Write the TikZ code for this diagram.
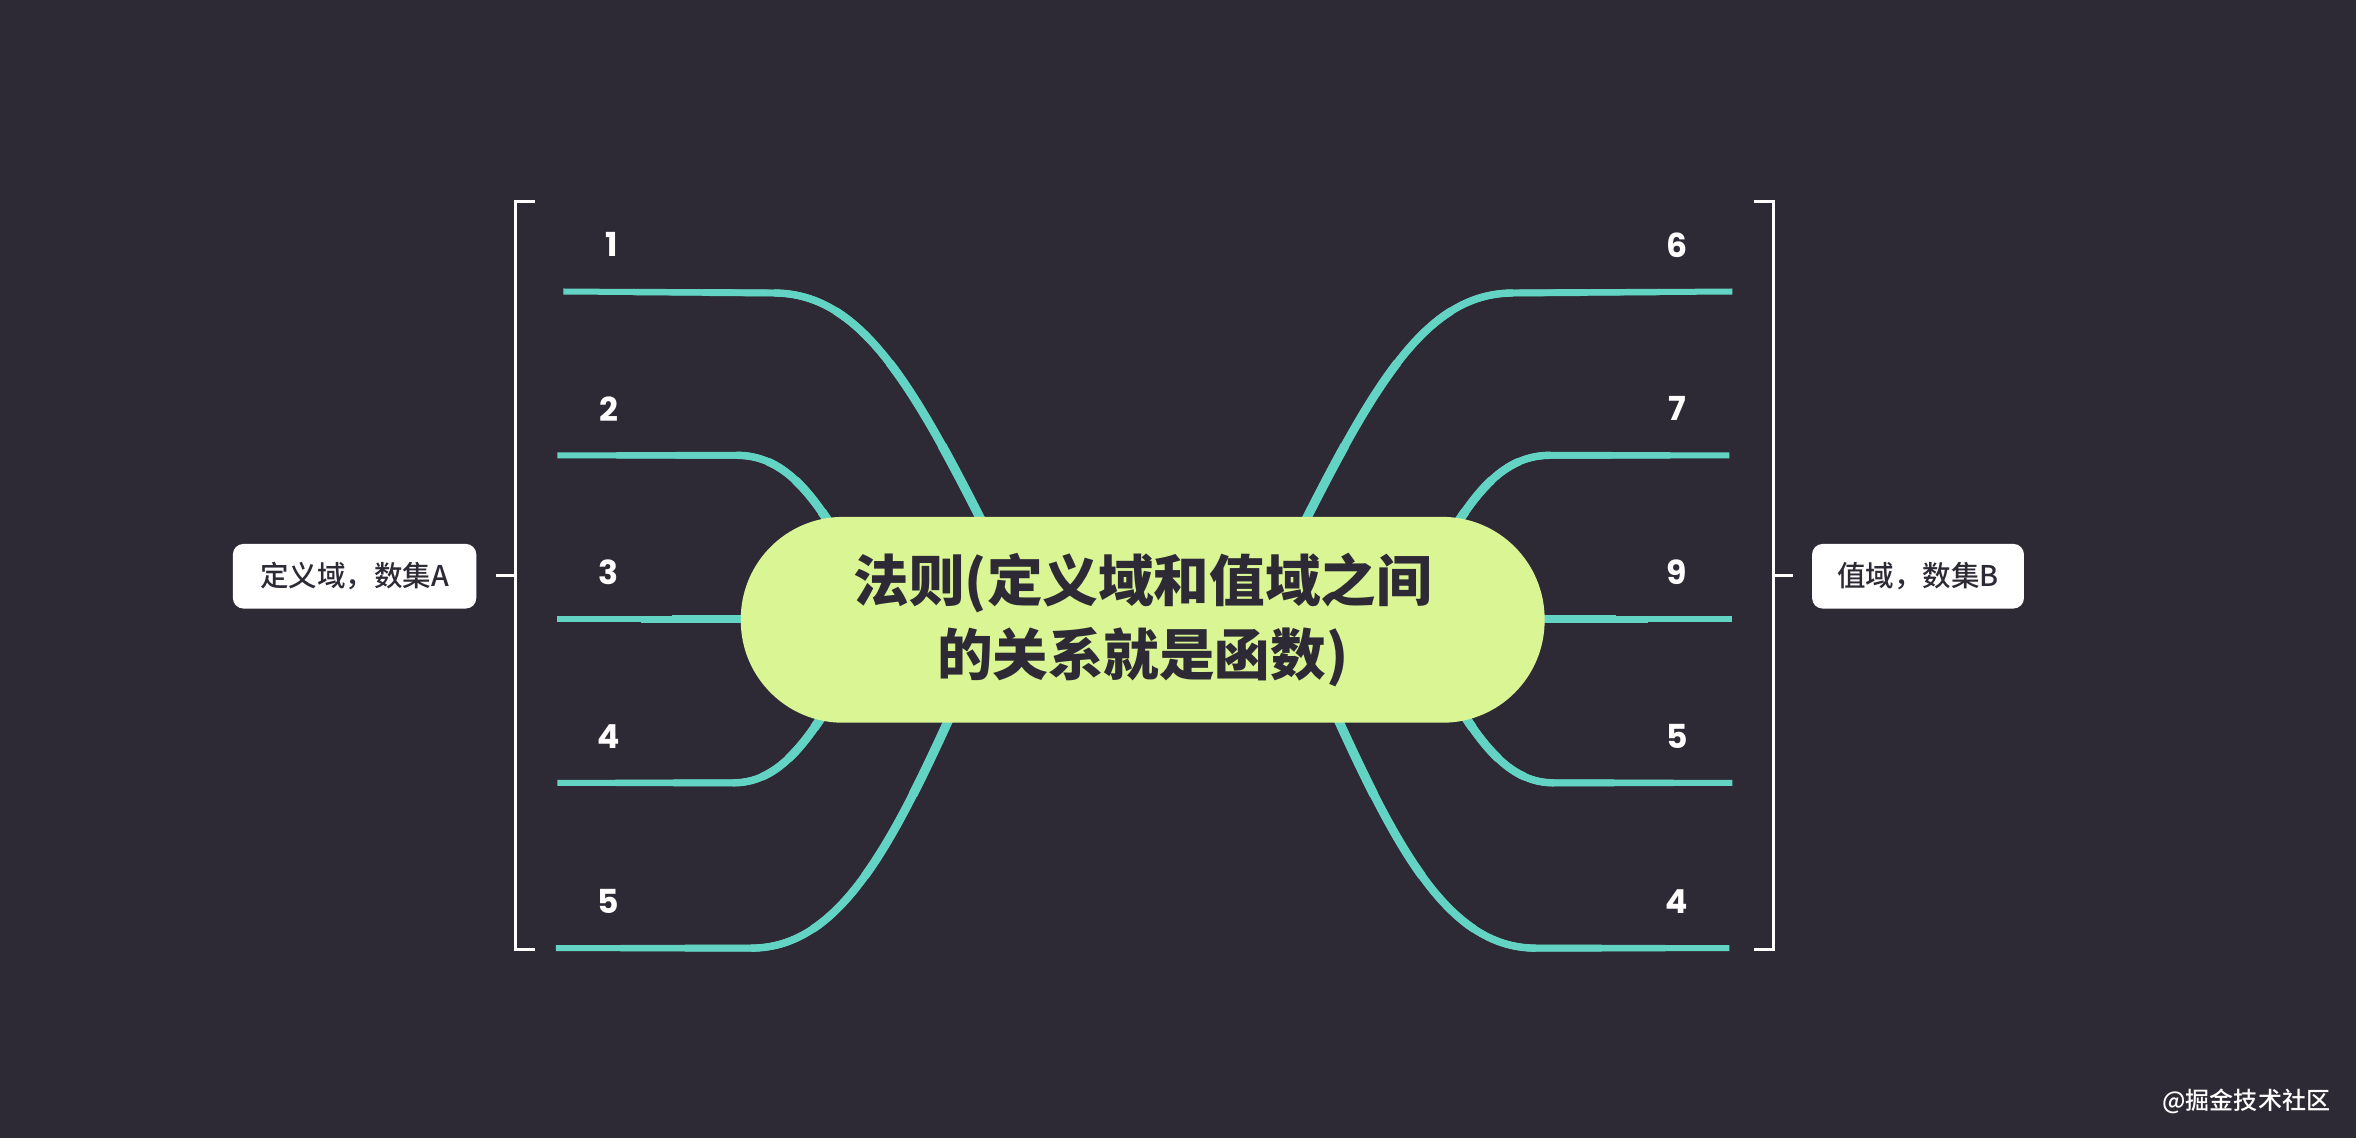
\documentclass[tikz,border=0pt]{standalone}
\usepackage{fontspec}
\setmainfont{Poppins}
\newfontfamily\cjk{Noto Sans CJK SC}
\newfontfamily\cjkm{Noto Sans CJK SC Medium}
\newfontfamily\numfont{Poppins}
\usetikzlibrary{calc}
\definecolor{bgc}{HTML}{2E2A35}
\definecolor{teal}{HTML}{63D3C4}
\definecolor{hubc}{HTML}{D9F594}
\definecolor{inkc}{HTML}{2E2A35}
\pgfdeclarelayer{bglayer}
\pgfdeclarelayer{branchlayer}
\pgfsetlayers{bglayer,branchlayer,main}
\tikzset{
  hub/.style={fill=hubc, rounded corners=68pt, minimum width=535pt, minimum height=137pt,
    inner sep=0pt, align=center, text=inkc, font=\cjk\bfseries\fontsize{37}{49}\selectfont},
  setlabel/.style={fill=white, rounded corners=7pt, minimum height=43pt, inner sep=0pt,
    text=inkc, font=\cjkm\fontsize{19}{22}\selectfont},
  numlabel/.style={text=white, inner sep=0pt, font=\numfont\bfseries\fontsize{22}{24}\selectfont},
  branch/.style={draw=teal, line cap=butt},
  bracketline/.style={draw=white, line width=2pt},
  wmark/.style={text=white, inner sep=0pt, font=\cjkm\fontsize{16}{18}\selectfont}
}
% tapered branch: start, knee, control 1, control 2, end
\newcommand{\brch}[5]{%
  \draw[branch, line width=4.0pt] #1 -- #2 .. controls #3 and #4 .. #5;
  \draw[branch, line width=4.3pt] ($#1!0.33!#2$) -- #2 .. controls #3 and #4 .. #5;
  \draw[branch, line width=4.6pt] ($#1!0.66!#2$) -- #2 .. controls #3 and #4 .. #5;
  \draw[branch, line width=4.9pt] #2 .. controls #3 and #4 .. #5;
  \draw[branch, line width=5.3pt] ($0.421875*#2+0.421875*#3+0.140625*#4+0.015625*#5$)
     .. controls ($0.5625*#3+0.375*#4+0.0625*#5$) and ($0.75*#4+0.25*#5$) .. #5;
  \draw[branch, line width=5.7pt] ($0.125*#2+0.375*#3+0.375*#4+0.125*#5$)
     .. controls ($0.25*#3+0.5*#4+0.25*#5$) and ($#4!0.5!#5$) .. #5;
  \draw[branch, line width=6.1pt] ($0.015625*#2+0.140625*#3+0.421875*#4+0.421875*#5$)
     .. controls ($0.0625*#3+0.375*#4+0.5625*#5$) and ($0.25*#4+0.75*#5$) .. #5;
}
\newcommand{\brstraight}[2]{%
  \draw[branch, line width=4.0pt] #1 -- #2;
  \draw[branch, line width=4.3pt] ($#1!0.2!#2$) -- #2;
  \draw[branch, line width=4.6pt] ($#1!0.4!#2$) -- #2;
  \draw[branch, line width=4.9pt] ($#1!0.55!#2$) -- #2;
  \draw[branch, line width=5.3pt] ($#1!0.7!#2$) -- #2;
  \draw[branch, line width=5.7pt] ($#1!0.82!#2$) -- #2;
  \draw[branch, line width=6.1pt] ($#1!0.92!#2$) -- #2;
}
\begin{document}
\begin{tikzpicture}[x=1pt,y=-1pt]
\begin{pgfonlayer}{bglayer}
\fill[bgc] (0,0) rectangle (1568,757.4);
\end{pgfonlayer}
\useasboundingbox (0,0) rectangle (1568,757.4);

% hub
\node[hub] (ctr) at (760.5,412.5) {法则(定义域和值域之间\\的关系就是函数)};

% branch coordinates
\coordinate (a1) at (375,194); \coordinate (a2) at (371,303); \coordinate (a3) at (371,412);
\coordinate (a4) at (371,521); \coordinate (a5) at (370,631);
\coordinate (b1) at (1153,194); \coordinate (b2) at (1151,303); \coordinate (b3) at (1153,412);
\coordinate (b4) at (1153,521); \coordinate (b5) at (1151,631);
\coordinate (ha1) at (665,370); \coordinate (ha2) at (565,370); \coordinate (ha3) at (510,412);
\coordinate (ha4) at (560,455); \coordinate (ha5) at (640,460);
\coordinate (hb1) at (857,370); \coordinate (hb2) at (957,370); \coordinate (hb3) at (1012,412);
\coordinate (hb4) at (962,455); \coordinate (hb5) at (882,460);

\begin{pgfonlayer}{branchlayer}
\brch{(a1)}{(515,195)}{(575,195)}{(610,260)}{(ha1)}
\brch{(a2)}{(490,303)}{(520,303)}{(540,325)}{(ha2)}
\brstraight{(a3)}{(ha3)}
\brch{(a4)}{(488,521)}{(515,521)}{(535,500)}{(ha4)}
\brch{(a5)}{(500,631)}{(560,631)}{(595,560)}{(ha5)}
\brch{(b1)}{(1007,195)}{(947,195)}{(912,260)}{(hb1)}
\brch{(b2)}{(1032,303)}{(1002,303)}{(982,325)}{(hb2)}
\brstraight{(b3)}{(hb3)}
\brch{(b4)}{(1034,521)}{(1007,521)}{(987,500)}{(hb4)}
\brch{(b5)}{(1022,631)}{(962,631)}{(927,560)}{(hb5)}
\end{pgfonlayer}

% numbers
\node[numlabel] (n1) at (407,163) {1};
\node[numlabel] (n2) at (405,272) {2};
\node[numlabel] (n3) at (405,381) {3};
\node[numlabel] (n4) at (405,490) {4};
\node[numlabel] (n5) at (405,600) {5};
\node[numlabel] (m1) at (1116,163) {6};
\node[numlabel] (m2) at (1116,272) {7};
\node[numlabel] (m3) at (1116,381) {9};
\node[numlabel] (m4) at (1116,490) {5};
\node[numlabel] (m5) at (1116,600) {4};

% brackets
\coordinate (lt) at (356,134); \coordinate (ltc) at (343,134);
\coordinate (lbc) at (343,632); \coordinate (lb) at (356,632);
\coordinate (lmid) at (343,383);
\coordinate (rt) at (1167,134); \coordinate (rtc) at (1180,134);
\coordinate (rbc) at (1180,632); \coordinate (rb) at (1167,632);
\coordinate (rmid) at (1180,383);
\draw[bracketline] (lt) -- (ltc) -- (lbc) -- (lb);
\draw[bracketline] (rt) -- (rtc) -- (rbc) -- (rb);

% set labels
\node[setlabel, minimum width=162pt] (setA) at (236,383.5) {定义域，数集A};
\node[setlabel, minimum width=141pt] (setB) at (1276.5,383.5) {值域，数集B};
\coordinate (tA) at (330,383);
\coordinate (tB) at (1193,383);
\draw[bracketline] (tA) -- (lmid);
\draw[bracketline] (rmid) -- (tB);

% watermark
\node[wmark] (wm) at (1495,733) {@掘金技术社区};
\end{tikzpicture}
\end{document}
